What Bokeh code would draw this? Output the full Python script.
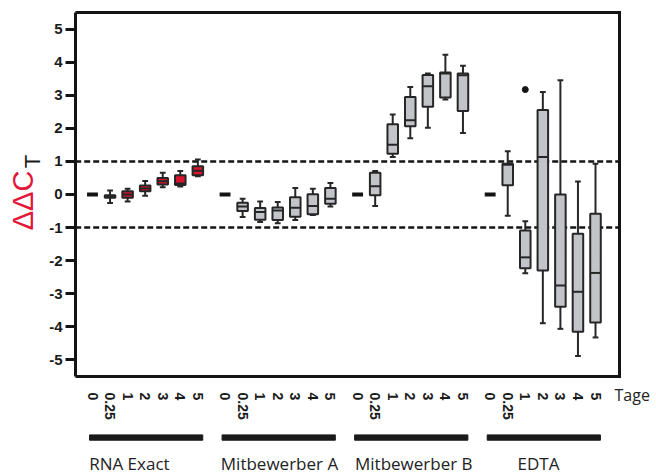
import numpy as np
from bokeh.plotting import figure
from bokeh.models import Range1d, FixedTicker, ColumnDataSource
from bokeh.layouts import row
from bokeh.embed import file_html
from bokeh.resources import INLINE
from bokeh.core.properties import value

# ---------------- data ----------------
days = ["0", "0.25", "1", "2", "3", "4", "5"]
groups = ["RNA Exact", "Mitbewerber A", "Mitbewerber B", "EDTA"]
x_title = "Tage"

rna_lo = [0, -0.26, -0.21, -0.04, 0.22, 0.24, 0.55]
rna_q1 = [0, -0.10, -0.10, 0.10, 0.30, 0.29, 0.58]
rna_med = [0, -0.06, 0.00, 0.18, 0.40, 0.33, 0.72]
rna_q3 = [0, -0.02, 0.10, 0.27, 0.50, 0.58, 0.85]
rna_hi = [0, 0.12, 0.17, 0.41, 0.66, 0.71, 1.06]

mita_lo = [0, -0.68, -0.83, -0.87, -0.77, -0.62, -0.36]
mita_q1 = [0, -0.50, -0.76, -0.77, -0.67, -0.60, -0.28]
mita_med = [0, -0.36, -0.53, -0.48, -0.40, -0.35, -0.13]
mita_q3 = [0, -0.25, -0.41, -0.39, -0.08, 0.01, 0.20]
mita_hi = [0, -0.13, -0.21, -0.23, 0.20, 0.17, 0.35]

mitb_lo = [0, -0.35, 1.13, 1.70, 2.02, 2.87, 1.86]
mitb_q1 = [0, -0.02, 1.23, 2.06, 2.65, 2.93, 2.52]
mitb_med = [0, 0.25, 1.50, 2.24, 3.27, 3.66, 3.60]
mitb_q3 = [0, 0.66, 2.12, 2.95, 3.61, 3.69, 3.66]
mitb_hi = [0, 0.71, 2.42, 3.25, 3.66, 4.22, 3.89]

edta_lo = [0, -0.64, -2.38, -3.89, -4.06, -4.88, -4.32]
edta_q1 = [0, 0.28, -2.23, -2.30, -3.39, -4.15, -3.87]
edta_med = [0, 0.90, -1.90, 1.13, -2.75, -2.94, -2.37]
edta_q3 = [0, 0.93, -1.09, 2.55, 0.00, -1.19, -0.58]
edta_hi = [0, 1.31, -0.81, 3.10, 3.45, 0.39, 0.93]

outlier_group = ["EDTA"]
outlier_day = ["1"]
outlier_value = [3.17]

y_ticks = [-5, -4, -3, -2, -1, 0, 1, 2, 3, 4, 5]
y_lim = [-5.5, 5.5]
threshold_lines = [1, -1]

# ---------------- layout constants ----------------
GROUP_STEP = 7.55
BOX_W = 0.6
CAP_W = 0.33
DASH_W = 0.62
RED = "#d8142f"
GRAY = "#c3c4c8"
EDGE = "#262626"
INK = "#141414"
fills = [RED, GRAY, GRAY, GRAY]
label_offsets = [2.1, 3.1, 3.2, 2.75]

# pixel geometry (picture pixels)
TOTAL_W, TOTAL_H = 656, 474
LEFT_W = 44
FRAME_L = 75
PLOT_W = TOTAL_W - LEFT_W
PXU_X, PXU_Y = 17.557, 33.09
X_START = -(92 - FRAME_L) / PXU_X
X_END = X_START + (TOTAL_W - FRAME_L) / PXU_X
Y_TOP = y_lim[1] + 12 / PXU_Y
Y_BOT = Y_TOP - TOTAL_H / PXU_Y

def x_at(px):
    return X_START + (px - FRAME_L) / PXU_X

def y_at(py):
    return Y_TOP - py / PXU_Y

stats = [
    (rna_lo, rna_q1, rna_med, rna_q3, rna_hi),
    (mita_lo, mita_q1, mita_med, mita_q3, mita_hi),
    (mitb_lo, mitb_q1, mitb_med, mitb_q3, mitb_hi),
    (edta_lo, edta_q1, edta_med, edta_q3, edta_hi),
]

def xpos(g, i):
    return round(g * GROUP_STEP + i, 4)

box = dict(x=[], lo=[], q1=[], med=[], q3=[], hi=[], fill=[])
zero = dict(x=[], y=[])
ticks_x, tick_text = [], []
for g, (lo, q1, med, q3, hi) in enumerate(stats):
    for i, d in enumerate(days):
        x = xpos(g, i)
        ticks_x.append(x)
        tick_text.append(d)
        if hi[i] == lo[i]:
            zero["x"].append(x)
            zero["y"].append(med[i])
        else:
            box["x"].append(x)
            box["lo"].append(lo[i])
            box["q1"].append(q1[i])
            box["med"].append(med[i])
            box["q3"].append(q3[i])
            box["hi"].append(hi[i])
            box["fill"].append(fills[g])

bsrc = ColumnDataSource(box)
bsrc.data["xl"] = [x - BOX_W / 2 for x in box["x"]]
bsrc.data["xr"] = [x + BOX_W / 2 for x in box["x"]]
bsrc.data["cl"] = [x - CAP_W / 2 for x in box["x"]]
bsrc.data["cr"] = [x + CAP_W / 2 for x in box["x"]]

p = figure(width=PLOT_W, height=TOTAL_H, x_range=Range1d(X_START, X_END),
           y_range=Range1d(Y_BOT, Y_TOP), output_backend="svg",
           toolbar_location=None, x_axis_location=None,
           min_border_left=FRAME_L - LEFT_W, min_border_right=0,
           min_border_top=0, min_border_bottom=0)
p.grid.visible = False
p.outline_line_color = None
p.background_fill_color = "white"
p.border_fill_color = "white"

x_right = x_at(619)
x_left = x_at(74.7)

# threshold lines
p.segment(x0=[x_left] * len(threshold_lines), x1=[x_right] * len(threshold_lines),
          y0=threshold_lines, y1=threshold_lines, line_color=INK,
          line_width=2.5, line_dash="6 3")

# whiskers
p.segment(x0="x", x1="x", y0="lo", y1="hi", source=bsrc, line_color=EDGE, line_width=2)
# boxes
p.quad(left="xl", right="xr", bottom="q1", top="q3", source=bsrc,
       fill_color="fill", line_color=EDGE, line_width=2)
# medians
p.segment(x0="xl", x1="xr", y0="med", y1="med", source=bsrc, line_color=EDGE, line_width=2)
# caps
p.segment(x0="cl", x1="cr", y0="hi", y1="hi", source=bsrc, line_color=EDGE, line_width=2)
p.segment(x0="cl", x1="cr", y0="lo", y1="lo", source=bsrc, line_color=EDGE, line_width=2)
# day-0 dashes
zsrc = ColumnDataSource(dict(x0=[x - DASH_W / 2 for x in zero["x"]],
                             x1=[x + DASH_W / 2 for x in zero["x"]], y=zero["y"]))
p.segment(x0="x0", x1="x1", y0="y", y1="y", source=zsrc, line_color=INK, line_width=4)
# outliers
ox = [xpos(groups.index(g), days.index(d)) for g, d in zip(outlier_group, outlier_day)]
p.scatter(ox, outlier_value, size=6, color=INK)

# frame: top, bottom, right
p.segment(x0=[x_left, x_left, x_right], x1=[x_right, x_right, x_right],
          y0=[y_lim[1], y_lim[0], y_lim[0]], y1=[y_lim[1], y_lim[0], y_lim[1]],
          line_color=INK, line_width=3, line_cap="square")

# y axis (real axis, bounded to the data frame)
ya = p.yaxis[0]
ya.bounds = (y_lim[0], y_lim[1])
ya.ticker = FixedTicker(ticks=y_ticks)
ya.major_label_overrides = {v: str(v) for v in y_ticks}
ya.minor_tick_line_color = None
ya.major_tick_in = 0
ya.major_tick_out = 10
ya.major_tick_line_width = 3
ya.major_tick_line_color = INK
ya.axis_line_width = 3
ya.axis_line_color = INK
ya.major_label_standoff = 3
ya.major_label_text_font = "Liberation Sans"
ya.major_label_text_font_style = "bold"
ya.major_label_text_font_size = "15px"
ya.major_label_text_color = "#1a1a1a"

# day tick labels (rotated, reading downward)
p.text(x=ticks_x, y=[y_at(392)] * len(ticks_x), text=tick_text, angle=-np.pi / 2,
       text_align="left", text_baseline="middle",
       text_font=value("Liberation Sans"), text_font_style="bold",
       text_font_size="14px", text_color="#1a1a1a")
# "Tage"
p.text(x=[x_at(614)], y=[y_at(394)], text=[x_title], text_align="left",
       text_baseline="middle", text_font=value("Open Sans"),
       text_font_size="16px", text_color="#222222")
# group bars
ng = len(groups)
n = len(days)
p.quad(left=[xpos(g, 0) - 0.17 for g in range(ng)],
       right=[xpos(g, n - 1) + 0.28 for g in range(ng)],
       bottom=y_at(439.7), top=y_at(434.4), color="#1a1a1a")
# group labels
p.text(x=[xpos(g, 0) + label_offsets[g] for g in range(ng)],
       y=[y_at(463)] * ng, text=groups, text_align="center",
       text_baseline="middle", text_font=value("Open Sans"),
       text_font_size="17px", text_color="#222222")

# left strip with the y-axis title  ΔΔC_T
pl = figure(width=LEFT_W, height=TOTAL_H, x_range=Range1d(0, LEFT_W),
            y_range=Range1d(TOTAL_H, 0), output_backend="svg",
            toolbar_location=None, x_axis_location=None, y_axis_location=None,
            min_border_left=0, min_border_right=0, min_border_top=0,
            min_border_bottom=0)
pl.grid.visible = False
pl.outline_line_color = None
pl.text(x=[22], y=[200], text=["ΔΔC"], angle=np.pi / 2, text_align="center",
        text_baseline="middle", text_font=value("Liberation Sans"),
        text_font_size="29px", text_color="#e3173a")
pl.text(x=[32], y=[161], text=["T"], angle=np.pi / 2, text_align="center",
        text_baseline="middle", text_font=value("Liberation Sans"),
        text_font_size="22px", text_color="#1a1a1a")

layout = row(pl, p, spacing=0)
open("out.html", "w").write(file_html(layout, INLINE))
